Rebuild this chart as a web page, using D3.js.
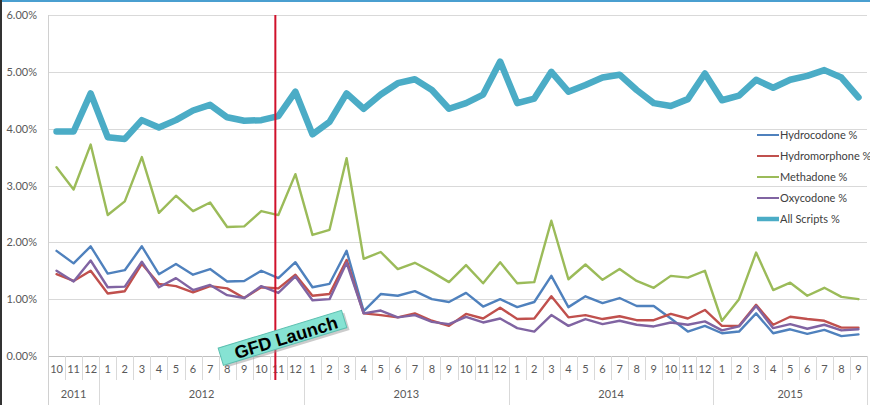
<!DOCTYPE html>
<html>
<head>
<meta charset="utf-8">
<script src="https://cdn.jsdelivr.net/npm/d3@7"></script>
<style>
  body { margin: 0; background: #fff; }
  svg { display: block; font-family: Lato, "Open Sans", sans-serif; }
</style>
</head>
<body>
<svg id="chart" width="870" height="405"></svg>
<script>
// month labels, Oct 2011 .. Sep 2015
var months = [10,11,12, 1,2,3,4,5,6,7,8,9,10,11,12, 1,2,3,4,5,6,7,8,9,10,11,12,
              1,2,3,4,5,6,7,8,9,10,11,12, 1,2,3,4,5,6,7,8,9];
var years = ["2011", "2012", "2013", "2014", "2015"];
var yearCounts = [3, 12, 12, 12, 9];
var yTicks = [0, 0.01, 0.02, 0.03, 0.04, 0.05, 0.06];

var seriesNames = ["Hydrocodone %", "Hydromorphone %", "Methadone %", "Oxycodone %", "All Scripts %"];
var seriesColors = ["#4f81bd", "#c0504d", "#9bbb59", "#8064a2", "#4bacc6"];

// values in percent
var hydrocodone = [1.85,1.63,1.93, 1.45,1.51,1.93,1.44,1.62,1.43,1.53,1.31,1.32,1.50,1.37,1.65,
  1.21,1.27,1.85,0.79,1.09,1.06,1.14,1.00,0.95,1.11,0.87,1.00,
  0.86,0.95,1.41,0.86,1.05,0.93,1.02,0.88,0.88,0.66,0.43,0.53,
  0.40,0.43,0.75,0.40,0.47,0.39,0.46,0.35,0.38];
var hydromorphone = [1.44,1.32,1.50, 1.10,1.14,1.62,1.27,1.23,1.12,1.23,1.19,1.02,1.21,1.19,1.43,
  1.06,1.09,1.69,0.75,0.72,0.68,0.75,0.62,0.53,0.74,0.66,0.85,
  0.65,0.66,1.05,0.68,0.72,0.65,0.70,0.63,0.63,0.74,0.66,0.81,
  0.53,0.53,0.90,0.55,0.69,0.65,0.62,0.50,0.50];
var methadone = [3.32,2.93,3.72, 2.48,2.72,3.50,2.52,2.82,2.55,2.70,2.27,2.28,2.55,2.48,3.20,
  2.13,2.22,3.48,1.71,1.83,1.53,1.64,1.48,1.30,1.60,1.28,1.65,
  1.28,1.30,2.38,1.35,1.61,1.34,1.53,1.32,1.20,1.41,1.38,1.50,
  0.62,1.00,1.82,1.16,1.29,1.06,1.20,1.04,1.00];
var oxycodone = [1.50,1.31,1.68, 1.21,1.22,1.66,1.21,1.37,1.16,1.25,1.07,1.02,1.23,1.11,1.40,
  0.98,1.00,1.64,0.75,0.80,0.68,0.72,0.60,0.56,0.69,0.59,0.66,
  0.49,0.43,0.72,0.53,0.65,0.56,0.62,0.55,0.52,0.59,0.55,0.61,
  0.45,0.52,0.88,0.49,0.56,0.48,0.55,0.45,0.47];
var allScripts = [3.95,3.95,4.62, 3.85,3.82,4.15,4.02,4.15,4.32,4.42,4.20,4.14,4.15,4.22,4.65,
  3.90,4.12,4.62,4.35,4.60,4.80,4.87,4.68,4.35,4.45,4.60,5.18,
  4.45,4.53,5.00,4.65,4.77,4.90,4.95,4.68,4.45,4.40,4.52,4.97,
  4.50,4.58,4.86,4.72,4.86,4.93,5.03,4.90,4.55];

var seriesData = [hydrocodone, hydromorphone, methadone, oxycodone, allScripts];
var seriesWidths = [2.4, 2.4, 2.4, 2.4, 6.5];
var launchIndex = 13; // Nov 2012

var svg = d3.select("#chart");
var plotLeft = 48, plotRight = 867, plotTop = 15, plotBottom = 356;

var x = d3.scaleBand().domain(d3.range(months.length)).range([plotLeft, plotRight]);
var y = d3.scaleLinear().domain([0, 0.06]).range([plotBottom, plotTop]);

// frame
svg.append("rect").attr("x", 0).attr("y", 0).attr("width", 870).attr("height", 405).attr("fill", "#fff");
svg.append("line").attr("x1", 0).attr("x2", 870).attr("y1", 1).attr("y2", 1)
  .attr("stroke", "#4a9fd0").attr("stroke-width", 2);
svg.append("line").attr("x1", 1).attr("x2", 1).attr("y1", 0).attr("y2", 405)
  .attr("stroke", "#333").attr("stroke-width", 2);

// gridlines
svg.append("g").selectAll("line").data(yTicks).enter().append("line")
  .attr("x1", plotLeft).attr("x2", plotRight)
  .attr("y1", function(d) { return Math.round(y(d)) + 0.5; })
  .attr("y2", function(d) { return Math.round(y(d)) + 0.5; })
  .attr("stroke", function(d) { return d === 0 ? "#bfbfbf" : "#d9d9d9"; });

svg.append("line").attr("x1", plotLeft + 0.5).attr("x2", plotLeft + 0.5).attr("y1", plotTop).attr("y2", 405)
  .attr("stroke", "#d0d0d0");

// y labels
svg.append("g").selectAll("text").data(yTicks).enter().append("text")
  .attr("x", 37).attr("y", function(d) { return y(d) + 4; })
  .attr("text-anchor", "end").attr("font-size", 11).attr("fill", "#595959")
  .text(function(d) { return d3.format(".2%")(d); });

// month separators and labels
var sep = svg.append("g");
d3.range(1, months.length + 1).forEach(function(i) {
  var xx = Math.round(x(i - 1) + x.bandwidth()) + 0.5;
  sep.append("line").attr("x1", xx).attr("x2", xx).attr("y1", plotBottom).attr("y2", 380)
    .attr("stroke", "#d9d9d9");
});
svg.append("g").selectAll("text").data(months).enter().append("text")
  .attr("x", function(d, i) { return x(i) + x.bandwidth() / 2; })
  .attr("y", 373).attr("text-anchor", "middle").attr("font-size", 11).attr("fill", "#595959")
  .text(function(d) { return d; });

// year groups
var start = 0;
years.forEach(function(yr, k) {
  var x0 = x(start), x1 = x(start + yearCounts[k] - 1) + x.bandwidth();
  svg.append("line").attr("x1", Math.round(x1) + 0.5).attr("x2", Math.round(x1) + 0.5)
    .attr("y1", plotBottom).attr("y2", 405).attr("stroke", "#d9d9d9");
  svg.append("text").attr("x", (x0 + x1) / 2).attr("y", 398).attr("text-anchor", "middle")
    .attr("font-size", 11).attr("fill", "#595959").text(yr);
  start += yearCounts[k];
});

// series
var line = d3.line()
  .x(function(d, i) { return x(i) + x.bandwidth() / 2; })
  .y(function(d) { return y(d / 100); });

seriesData.forEach(function(vals, k) {
  svg.append("path").datum(vals).attr("d", line).attr("fill", "none")
    .attr("stroke", seriesColors[k]).attr("stroke-width", seriesWidths[k])
    .attr("stroke-linejoin", "round").attr("stroke-linecap", "round");
});

// legend
var leg = svg.append("g");
seriesNames.forEach(function(name, k) {
  var ly = 135 + k * 21;
  leg.append("line").attr("x1", 757).attr("x2", 779).attr("y1", ly).attr("y2", ly)
    .attr("stroke", seriesColors[k]).attr("stroke-width", k === 4 ? 4.5 : 2);
  leg.append("text").attr("x", 780).attr("y", ly + 4).attr("font-size", 11)
    .attr("fill", "#404040").text(name);
});

// launch marker
var lx = x(launchIndex) + x.bandwidth() / 2 - 3;
svg.append("line").attr("x1", lx).attr("x2", lx).attr("y1", plotTop).attr("y2", 380)
  .attr("stroke", "#d0112b").attr("stroke-width", 2);

var tag = svg.append("g").attr("transform", "translate(282,338) rotate(-17)");
tag.append("rect").attr("x", -64).attr("y", -8).attr("width", 129).attr("height", 18)
  .attr("fill", "#999").attr("opacity", 0.5).attr("transform", "translate(2,2)");
tag.append("rect").attr("x", -64).attr("y", -9).attr("width", 129).attr("height", 18)
  .attr("fill", "#86e3d3").attr("stroke", "#5cbfb0").attr("stroke-width", 1);
tag.append("text").attr("x", 4).attr("y", 7).attr("text-anchor", "middle")
  .attr("font-family", "'Liberation Sans', Arial, sans-serif").attr("font-weight", "bold")
  .attr("font-size", 18).attr("fill", "#000").text("GFD Launch");
</script>
</body>
</html>
